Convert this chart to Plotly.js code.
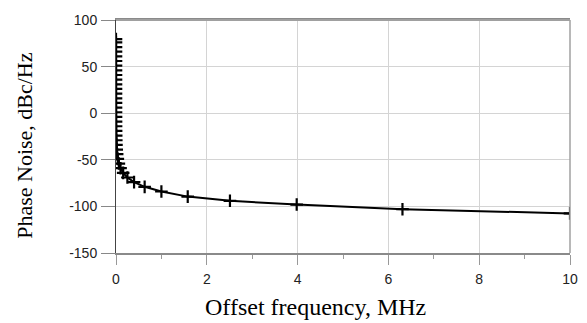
<!DOCTYPE html>
<html><head><meta charset="utf-8">
<script src="https://cdn.plot.ly/plotly-3.0.1.min.js"></script>
<style>html,body{margin:0;padding:0;background:#fff}</style>
</head><body><div id="chart" style="width:587px;height:323px"></div>
<script>
// Offset frequency in MHz (5 points per decade)
var freqMHz = [10, 6.31, 3.98, 2.51, 1.58, 1.0, 0.631, 0.398, 0.251, 0.158,
  0.1, 0.0631, 0.0398, 0.0251, 0.0158, 0.01, 0.00631, 0.00398, 0.00251, 0.00158,
  0.001, 0.000631, 0.000398, 0.000251, 0.000158, 0.0001, 0.0000631, 0.0000398, 0.0000251, 0.0000158,
  0.00001, 0.00000631, 0.00000398, 0.00000251, 0.00000158, 0.000001, 0.000000631, 0.000000398, 0.000000251];
// Phase noise, dBc/Hz
var phaseNoise = [-107.5, -103, -98, -94, -89.5, -84, -79, -74, -69, -64,
  -59, -54, -49, -44, -39, -34, -29, -24, -19, -14,
  -9, -4, 1, 6, 11, 16, 21, 26, 31, 36,
  41, 46, 51, 56, 61, 66, 71, 76, 79.5];
var xTicks = [0, 2, 4, 6, 8, 10];
var xTickText = ['0', '2', '4', '6', '8', '10'];
var xMinorTicks = [1, 3, 5, 7, 9];
var yTicks = [-150, -100, -50, 0, 50, 100];
var yTickText = ['-150', '-100', '-50', '0', '50', '100'];

var tickFont = {family: 'Liberation Sans, Arial', size: 14, color: '#222'};

Plotly.newPlot('chart', [{
  x: freqMHz, y: phaseNoise, type: 'scatter', mode: 'lines+markers',
  line: {color: '#000', width: 2},
  marker: {symbol: 'cross-thin', size: 9, line: {color: '#000', width: 2.2}, color: '#000'}
}], {
  width: 587, height: 323,
  margin: {l: 116, r: 17, t: 20, b: 70},
  paper_bgcolor: '#fff', plot_bgcolor: '#fff',
  showlegend: false,
  xaxis: {
    range: [0, 10], tickvals: xTicks, ticktext: xTickText, ticks: 'outside', ticklen: 10, tickcolor: '#999', tickwidth: 1,
    ticklabelstandoff: 2,
    showgrid: true, gridcolor: '#d4d4d4', gridwidth: 1, zeroline: false,
    showline: true, linecolor: '#8a8a8a', linewidth: 2, mirror: true,
    minor: {tickvals: xMinorTicks, ticks: 'outside', ticklen: 4, tickcolor: '#999', showgrid: false},
    tickfont: tickFont
  },
  yaxis: {
    range: [-150, 100], tickvals: yTicks, ticktext: yTickText, ticks: 'outside', ticklen: 14, tickcolor: '#888', tickwidth: 1,
    ticklabelstandoff: 1,
    showgrid: true, gridcolor: '#d4d4d4', gridwidth: 1, zeroline: false,
    showline: true, linecolor: '#444', linewidth: 1, mirror: false,
    tickfont: tickFont
  },
  shapes: [
    {type: 'line', xref: 'paper', yref: 'paper', x0: 0, x1: 1, y0: 1, y1: 1, line: {color: '#a0a0a0', width: 2}},
    {type: 'line', xref: 'paper', yref: 'paper', x0: 1, x1: 1, y0: 0, y1: 1, line: {color: '#a0a0a0', width: 1.5}}
  ],
  annotations: [
    {text: 'Offset frequency, MHz', xref: 'paper', yref: 'paper', x: 0.4405, y: -0.23,
     xanchor: 'center', yanchor: 'middle', showarrow: false,
     font: {family: 'Liberation Serif, Times New Roman', size: 24, color: '#000'}},
    {text: 'Phase Noise, dBc/Hz', xref: 'paper', yref: 'paper', x: -0.2004, y: 0.46,
     xanchor: 'center', yanchor: 'middle', textangle: -90, showarrow: false,
     font: {family: 'Liberation Serif, Times New Roman', size: 22, color: '#000'}}
  ]
}, {displayModeBar: false, staticPlot: true});
</script></body></html>
